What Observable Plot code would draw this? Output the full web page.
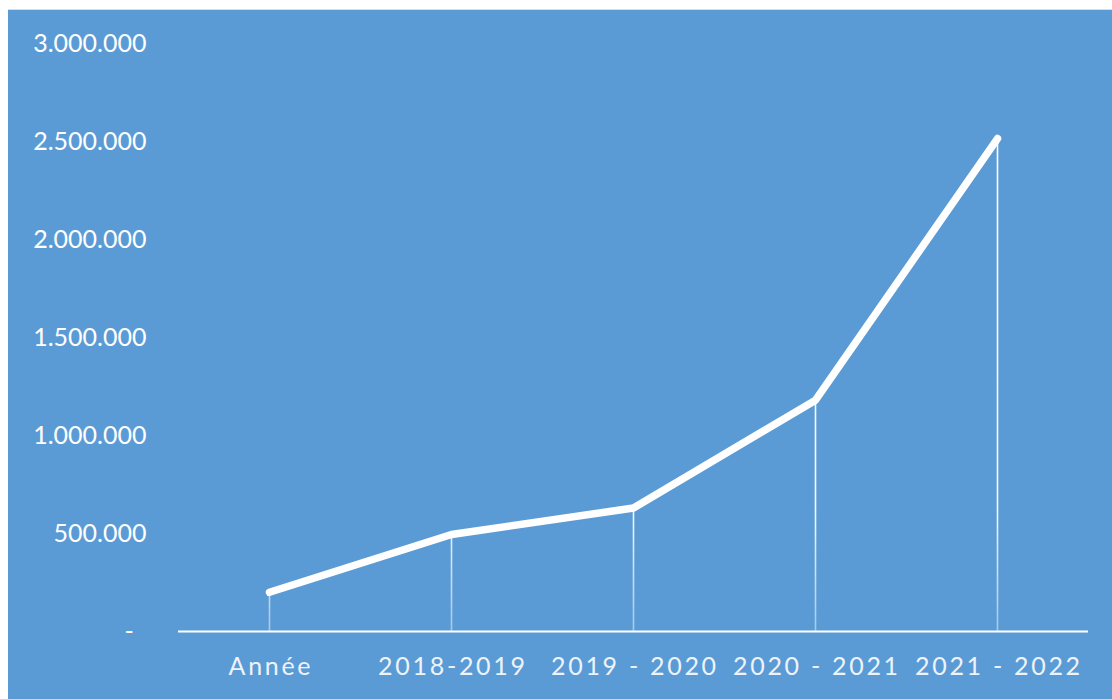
<!DOCTYPE html>
<html>
<head>
<meta charset="utf-8">
<script src="https://cdn.jsdelivr.net/npm/d3@7"></script>
<script src="https://cdn.jsdelivr.net/npm/@observablehq/plot@0.6"></script>
<style>
  html, body { margin: 0; padding: 0; background: #ffffff; }
  #wrap { position: absolute; left: 8px; top: 9px; width: 1104px; height: 690px; background: #5B9BD5; border-top: 1px solid #d9dde3; box-sizing: border-box; }
  #chart svg { display: block; }
  #chart svg g[aria-label="x-axis tick label"] text { letter-spacing: 2.7px; }
</style>
</head>
<body>
<div id="wrap"><div id="chart"></div></div>
<script>
const categories = ["Année", "2018-2019", "2019 - 2020", "2020 - 2021", "2021 - 2022"];
const values = [200000, 495000, 630000, 1180000, 2515000];
const yTicks = [0, 500000, 1000000, 1500000, 2000000, 2500000, 3000000];

const data = categories.map((c, i) => ({category: c, value: values[i]}));
const fmt = d => d === 0 ? "-\u00a0\u00a0" : d3.format(",")(d).replace(/,/g, ".");

const chart = Plot.plot({
  width: 1104,
  height: 689,
  marginTop: 33,
  marginBottom: 68,
  marginLeft: 170,
  marginRight: 24,
  style: {background: "#5B9BD5", color: "#ffffff", fontFamily: "Lato, 'Open Sans', sans-serif", fontSize: "25px"},
  x: {type: "point", domain: categories, padding: 0.5, label: null},
  y: {domain: [0, 3000000], label: null},
  marks: [
    Plot.axisY({ticks: yTicks, tickFormat: fmt, tickSize: 0, tickPadding: 32, fill: "#ffffff", fontSize: 25}),
    Plot.axisX({tickSize: 0, tickPadding: 26, fill: "#eef3fa", fontSize: 25, dx: 1.4}),
    Plot.ruleX(data, {x: "category", y1: 0, y2: "value", stroke: "url(#dropfade)", strokeWidth: 1.6}),
    Plot.ruleY([0], {stroke: "#ffffff", strokeWidth: 2}),
    Plot.line(data, {x: "category", y: "value", stroke: "#ffffff", strokeWidth: 7.5, strokeLinecap: "round", strokeLinejoin: "round"})
  ]
});

// gradient for fading drop lines
const ns = "http://www.w3.org/2000/svg";
const defs = document.createElementNS(ns, "defs");
const grad = document.createElementNS(ns, "linearGradient");
grad.setAttribute("id", "dropfade");
grad.setAttribute("gradientUnits", "userSpaceOnUse");
grad.setAttribute("x1", "0"); grad.setAttribute("x2", "0");
grad.setAttribute("y1", "120"); grad.setAttribute("y2", "621");
[["0", 1], ["0.75", 0.95], ["1", 0.45]].forEach(([o, a]) => {
  const s = document.createElementNS(ns, "stop");
  s.setAttribute("offset", o);
  s.setAttribute("stop-color", "#ffffff");
  s.setAttribute("stop-opacity", a);
  grad.appendChild(s);
});
defs.appendChild(grad);
chart.insertBefore(defs, chart.firstChild);

document.getElementById("chart").appendChild(chart);
</script>
</body>
</html>
